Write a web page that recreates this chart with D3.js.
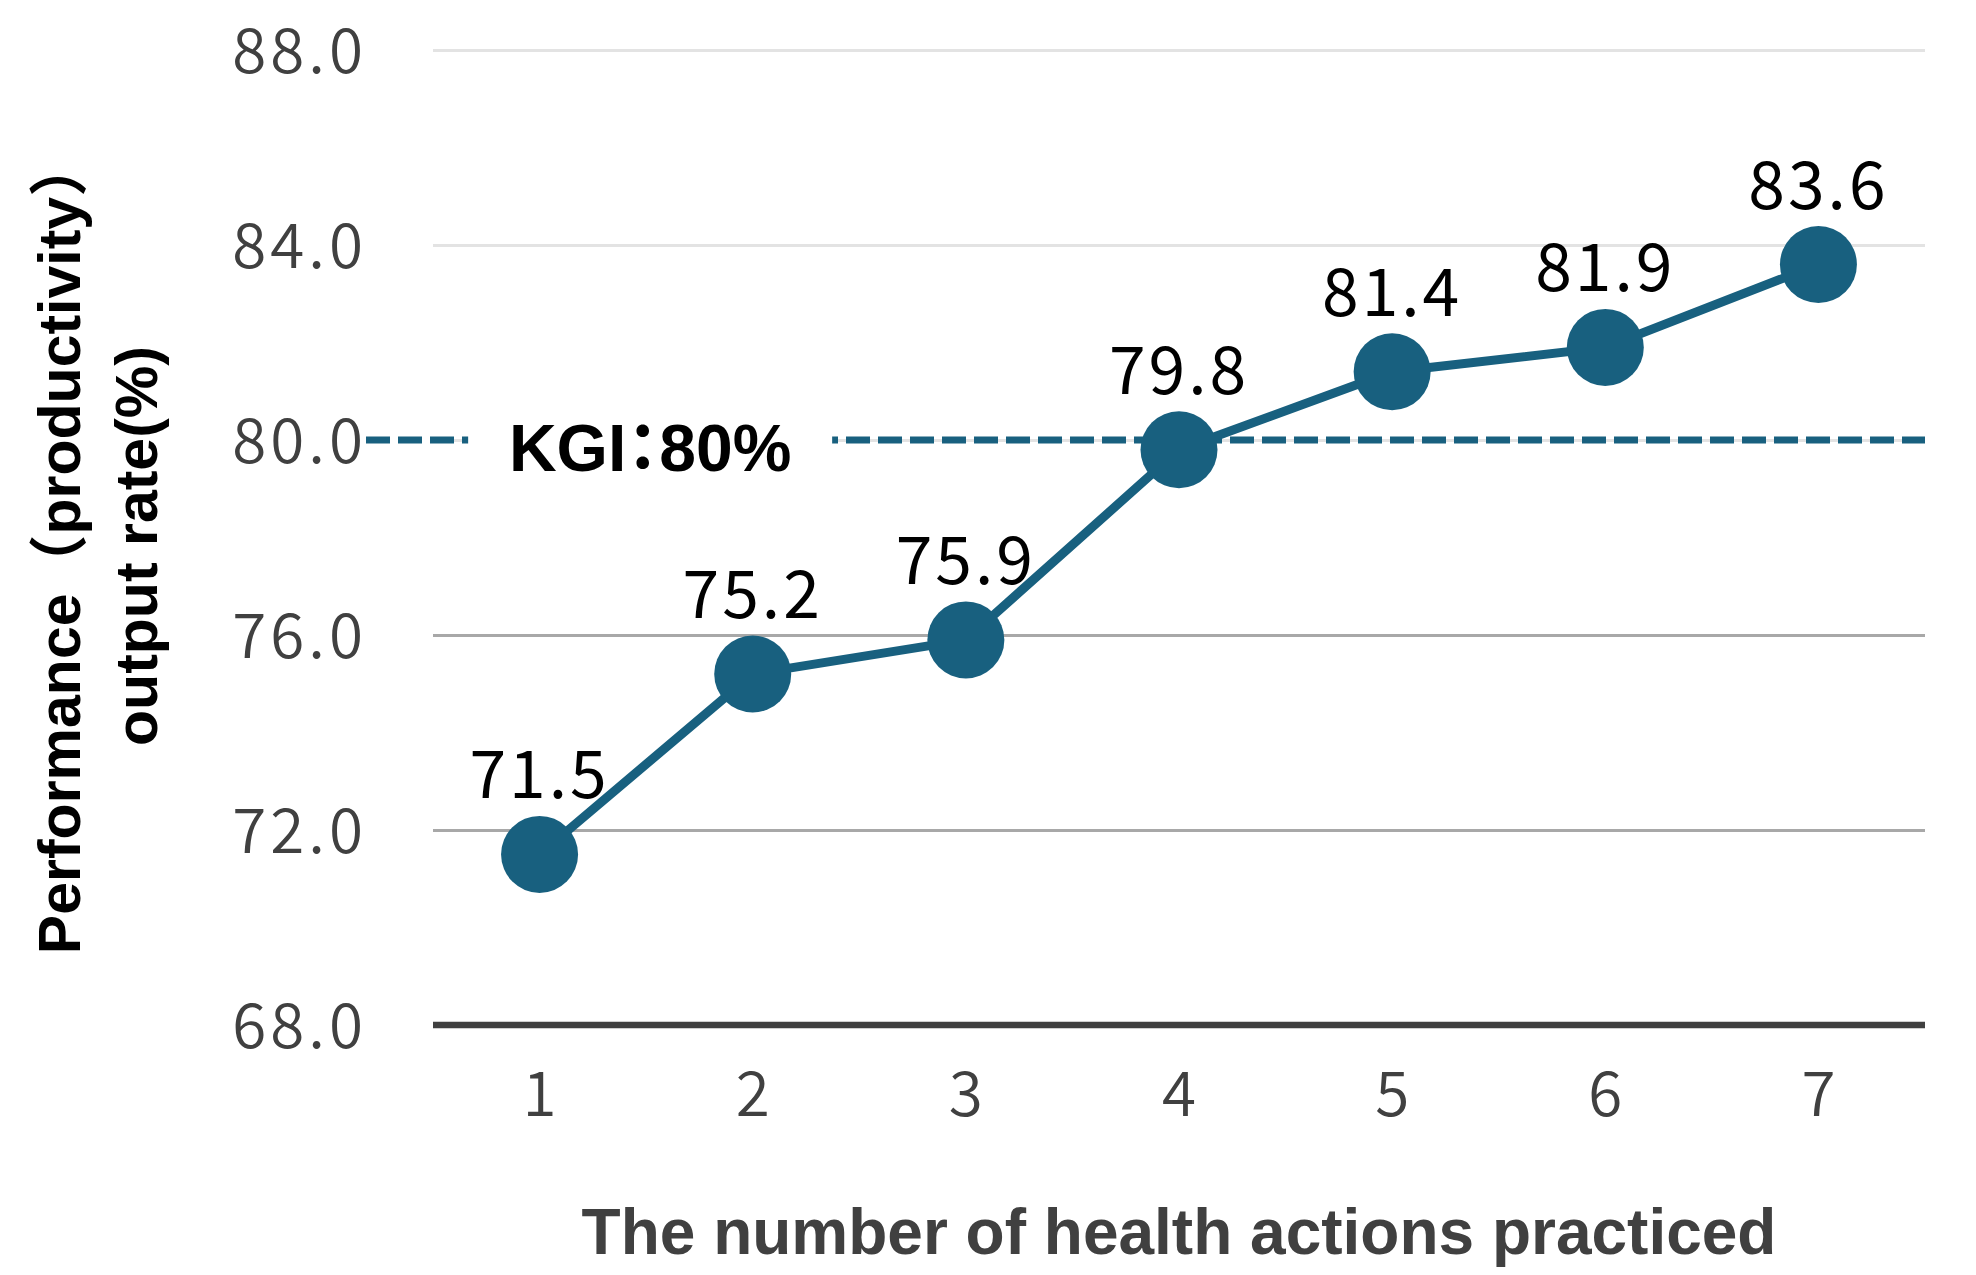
<!DOCTYPE html>
<html>
<head>
<meta charset="utf-8">
<script src="https://cdn.jsdelivr.net/npm/d3@7/dist/d3.min.js"></script>
<style>
  body { margin: 0; background: #fff; }
  svg { display: block; background: #fff; }
  .tick-label text {
    font-family: "Noto Sans CJK JP", "Noto Sans", sans-serif;
    font-weight: 350;
    fill: #404040;
  }
  .axis-title {
    font-family: "Liberation Sans", Arial, "Noto Sans CJK JP", sans-serif;
    font-weight: bold;
  }
  .kgi-label {
    font-family: "Liberation Sans", Arial, "Noto Sans CJK JP", sans-serif;
    font-weight: bold;
    font-feature-settings: "halt";
  }
  .data-label {
    font-family: "Noto Sans CJK JP", "Noto Sans", sans-serif;
    fill: #000;
  }
</style>
</head>
<body>
<div id="chart"></div>
<script>
// ---- Data ----
const actionCounts = ['1', '2', '3', '4', '5', '6', '7'];
const outputRates = [71.5, 75.2, 75.9, 79.8, 81.4, 81.9, 83.6];
const yTicks = [68, 72, 76, 80, 84, 88];
const kgiValue = 80;
const kgiLabel = 'KGI：80%';
const yTitleLines = ['Performance（productivity）', 'output rate(%)'];
const xTitle = 'The number of health actions practiced';

const MAIN = '#18607f';

function renderChart() {
    const W = 1976, H = 1275;
    const margin = { top: 50, right: 51, bottom: 250, left: 433 };
    const width = W - margin.left - margin.right;
    const height = H - margin.top - margin.bottom;

    const root = d3.select('#chart').append('svg')
        .attr('width', W)
        .attr('height', H);

    const svg = root.append('g')
        .attr('transform', `translate(${margin.left},${margin.top})`);

    const points = actionCounts.map((k, i) => ({ k, v: outputRates[i] }));

    // --- Scales ---
    const x = d3.scaleBand()
        .domain(actionCounts)
        .range([0, width]);
    const cx = d => x(d) + x.bandwidth() / 2;

    const y = d3.scaleLinear()
        .domain([d3.min(yTicks), d3.max(yTicks)])
        .range([height, 0]);

    // --- Gridlines (lighter above the KGI, darker below) ---
    const grid = svg.append('g')
        .call(d3.axisLeft(y).tickValues(yTicks.slice(1)).tickSize(-width).tickFormat(''));
    grid.select('.domain').remove();
    grid.selectAll('.tick line')
        .attr('stroke', d => d < kgiValue ? '#a8a8a8' : '#e3e3e3')
        .attr('stroke-width', 3);

    // --- Y tick labels ---
    const yAxis = svg.append('g')
        .attr('class', 'tick-label')
        .call(d3.axisLeft(y).tickValues(yTicks).tickFormat(d3.format('.1f')).tickSize(0).tickPadding(66));
    yAxis.select('.domain').remove();
    yAxis.selectAll('text')
        .attr('font-size', 62)
        .attr('letter-spacing', 4)
        .attr('dy', '0.36em');

    // --- X axis (baseline + labels) ---
    const xAxis = svg.append('g')
        .attr('class', 'tick-label')
        .attr('transform', `translate(0,${height})`)
        .call(d3.axisBottom(x).tickSize(0).tickPadding(47));
    xAxis.select('.domain').remove();
    xAxis.selectAll('text').attr('font-size', 62);

    svg.append('line')
        .attr('x1', 0).attr('x2', width)
        .attr('y1', y(d3.min(yTicks))).attr('y2', y(d3.min(yTicks)))
        .attr('stroke', '#404040')
        .attr('stroke-width', 6.5);

    // --- KGI reference line ---
    const kgiY = y(kgiValue);
    svg.append('line')
        .attr('x1', -67).attr('x2', width)
        .attr('y1', kgiY).attr('y2', kgiY)
        .attr('stroke', MAIN)
        .attr('stroke-width', 7)
        .attr('stroke-dasharray', '24,8');

    const kgiX = (cx(actionCounts[0]) + cx(actionCounts[1])) / 2 + 4;
    svg.append('rect')
        .attr('x', kgiX - 182).attr('y', kgiY - 40)
        .attr('width', 364).attr('height', 80)
        .attr('fill', '#fff');

    svg.append('text')
        .attr('class', 'kgi-label')
        .attr('x', kgiX)
        .attr('y', kgiY + 31)
        .attr('text-anchor', 'middle')
        .attr('font-size', 66)
        .attr('fill', '#000')
        .text(kgiLabel);

    // --- Series line + markers ---
    const lineGen = d3.line()
        .x(d => cx(d.k))
        .y(d => y(d.v));

    svg.append('path')
        .datum(points)
        .attr('d', lineGen)
        .attr('fill', 'none')
        .attr('stroke', MAIN)
        .attr('stroke-width', 9);

    svg.selectAll('.dot')
        .data(points)
        .enter().append('circle')
        .attr('class', 'dot')
        .attr('cx', d => cx(d.k))
        .attr('cy', d => y(d.v))
        .attr('r', 38.5)
        .attr('fill', MAIN);

    // --- Data labels ---
    svg.selectAll('.data-label')
        .data(points)
        .enter().append('text')
        .attr('class', 'data-label')
        .attr('x', d => cx(d.k))
        .attr('y', d => y(d.v) - 56)
        .attr('text-anchor', 'middle')
        .attr('font-size', 66)
        .attr('letter-spacing', 3)
        .text(d => d3.format('.1f')(d.v));

    // --- Axis titles ---
    root.append('text')
        .attr('class', 'axis-title')
        .attr('x', margin.left + width / 2)
        .attr('y', 1254)
        .attr('text-anchor', 'middle')
        .attr('font-size', 64)
        .attr('fill', '#404040')
        .text(xTitle);

    const yTitle = root.append('g')
        .attr('transform', 'translate(0,546) rotate(-90)');
    yTitleLines.forEach((line, i) => {
        yTitle.append('text')
            .attr('class', 'axis-title')
            .attr('x', 0)
            .attr('y', 80 + i * 77)
            .attr('text-anchor', 'middle')
            .attr('font-size', 59)
            .attr('fill', '#000')
            .text(line);
    });
}

renderChart();
</script>
</body>
</html>
